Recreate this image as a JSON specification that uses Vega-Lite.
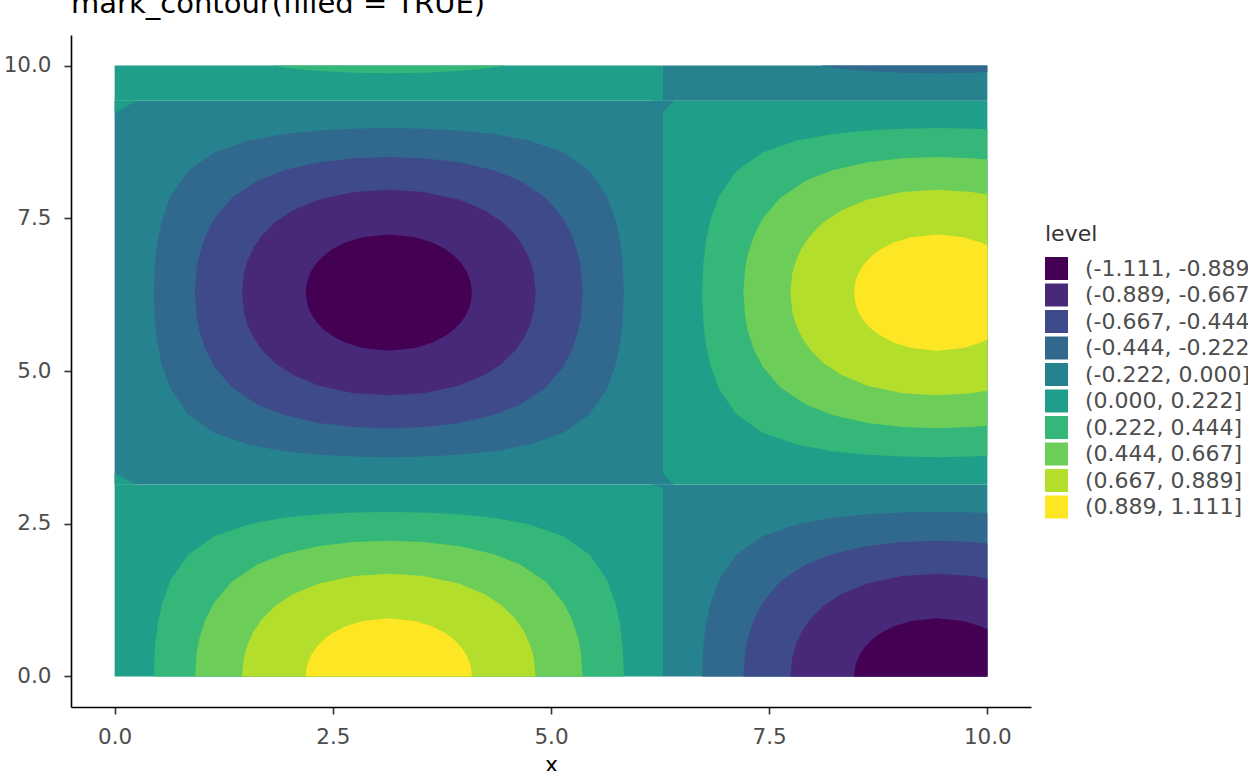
{
"$schema": "https://vega.github.io/schema/vega-lite/v6.json",
"autosize": {"type": "none"},
"padding": {"left": 71, "top": 35, "right": 217, "bottom": 64},
"width": 960,
"height": 672,
"title": {"text": "mark_contour(filled = TRUE)", "anchor": "start", "frame": "group", "fontSize": 29, "fontWeight": "normal", "color": "#000000", "baseline": "alphabetic", "offset": -7},
"datasets": {
"levels": [
{"lv":1,"level":"(-1.111, -0.889]"},{"lv":2,"level":"(-0.889, -0.667]"},{"lv":3,"level":"(-0.667, -0.444]"},{"lv":4,"level":"(-0.444, -0.222]"},{"lv":5,"level":"(-0.222, 0.000]"},{"lv":6,"level":"(0.000, 0.222]"},{"lv":7,"level":"(0.222, 0.444]"},{"lv":8,"level":"(0.444, 0.667]"},{"lv":9,"level":"(0.667, 0.889]"},{"lv":10,"level":"(0.889, 1.111]"}
],
"base": [
{"lv":6,"x":0,"x2":6.2832,"y":0,"y2":3.1416},
{"lv":5,"x":0,"x2":6.2832,"y":3.1416,"y2":9.4248},
{"lv":6,"x":0,"x2":6.2832,"y":9.4248,"y2":10},
{"lv":5,"x":6.2832,"x2":10,"y":0,"y2":3.1416},
{"lv":6,"x":6.2832,"x2":10,"y":3.1416,"y2":9.4248},
{"lv":5,"x":6.2832,"x2":10,"y":9.4248,"y2":10}
],
"fix": [
{"b":"A","lv":6,"x":0,"y":3.1416,"y2":3.328},{"b":"A","lv":6,"x":0.249,"y":3.1416,"y2":3.1416},
{"b":"B","lv":6,"x":0,"y":9.22,"y2":9.4248},{"b":"B","lv":6,"x":0.25,"y":9.4248,"y2":9.4248},
{"b":"C","lv":5,"x":6.155,"y":3.1416,"y2":3.1416},{"b":"C","lv":5,"x":6.2832,"y":3.083,"y2":3.1416},
{"b":"D","lv":5,"x":6.2832,"y":3.1416,"y2":3.328},{"b":"D","lv":5,"x":6.402,"y":3.1416,"y2":3.1416},
{"b":"E","lv":6,"x":6.155,"y":9.4248,"y2":9.4248},{"b":"E","lv":6,"x":6.2832,"y":9.4248,"y2":9.472},
{"b":"F","lv":5,"x":6.2832,"y":9.237,"y2":9.4248},{"b":"F","lv":5,"x":6.41,"y":9.4248,"y2":9.4248}
],
"t1": [
{"b":"LB","lv":7,"x":0.4482,"y":0,"y2":0},{"b":"LB","lv":7,"x":0.4616,"y":0,"y2":0.479},{"b":"LB","lv":7,"x":0.4916,"y":0,"y2":0.839},{"b":"LB","lv":7,"x":0.5416,"y":0,"y2":1.1807},{"b":"LB","lv":7,"x":0.6416,"y":0,"y2":1.5775},{"b":"LB","lv":7,"x":0.8416,"y":0,"y2":1.9912},{"b":"LB","lv":7,"x":1.1416,"y":0,"y2":2.2939},{"b":"LB","lv":7,"x":1.5416,"y":0,"y2":2.4923},{"b":"LB","lv":7,"x":1.9416,"y":0,"y2":2.5964},{"b":"LB","lv":7,"x":2.3416,"y":0,"y2":2.6542},{"b":"LB","lv":7,"x":2.7416,"y":0,"y2":2.6841},{"b":"LB","lv":7,"x":3.1416,"y":0,"y2":2.6934},{"b":"LB","lv":7,"x":3.5416,"y":0,"y2":2.6841},{"b":"LB","lv":7,"x":3.9416,"y":0,"y2":2.6542},{"b":"LB","lv":7,"x":4.3416,"y":0,"y2":2.5964},{"b":"LB","lv":7,"x":4.7416,"y":0,"y2":2.4923},{"b":"LB","lv":7,"x":5.1416,"y":0,"y2":2.2939},{"b":"LB","lv":7,"x":5.4416,"y":0,"y2":1.9912},{"b":"LB","lv":7,"x":5.6416,"y":0,"y2":1.5775},{"b":"LB","lv":7,"x":5.7416,"y":0,"y2":1.1807},{"b":"LB","lv":7,"x":5.7916,"y":0,"y2":0.839},{"b":"LB","lv":7,"x":5.8216,"y":0,"y2":0.479},{"b":"LB","lv":7,"x":5.835,"y":0,"y2":0},
{"b":"LM","lv":4,"x":0.4482,"y":6.2832,"y2":6.2832},{"b":"LM","lv":4,"x":0.4616,"y":5.8042,"y2":6.7622},{"b":"LM","lv":4,"x":0.4916,"y":5.4442,"y2":7.1222},{"b":"LM","lv":4,"x":0.5416,"y":5.1025,"y2":7.4639},{"b":"LM","lv":4,"x":0.6416,"y":4.7057,"y2":7.8607},{"b":"LM","lv":4,"x":0.8416,"y":4.292,"y2":8.2744},{"b":"LM","lv":4,"x":1.1416,"y":3.9893,"y2":8.5771},{"b":"LM","lv":4,"x":1.5416,"y":3.7909,"y2":8.7755},{"b":"LM","lv":4,"x":1.9416,"y":3.6868,"y2":8.8796},{"b":"LM","lv":4,"x":2.3416,"y":3.629,"y2":8.9374},{"b":"LM","lv":4,"x":2.7416,"y":3.5991,"y2":8.9673},{"b":"LM","lv":4,"x":3.1416,"y":3.5898,"y2":8.9766},{"b":"LM","lv":4,"x":3.5416,"y":3.5991,"y2":8.9673},{"b":"LM","lv":4,"x":3.9416,"y":3.629,"y2":8.9374},{"b":"LM","lv":4,"x":4.3416,"y":3.6868,"y2":8.8796},{"b":"LM","lv":4,"x":4.7416,"y":3.7909,"y2":8.7755},{"b":"LM","lv":4,"x":5.1416,"y":3.9893,"y2":8.5771},{"b":"LM","lv":4,"x":5.4416,"y":4.292,"y2":8.2744},{"b":"LM","lv":4,"x":5.6416,"y":4.7057,"y2":7.8607},{"b":"LM","lv":4,"x":5.7416,"y":5.1025,"y2":7.4639},{"b":"LM","lv":4,"x":5.7916,"y":5.4442,"y2":7.1222},{"b":"LM","lv":4,"x":5.8216,"y":5.8042,"y2":6.7622},{"b":"LM","lv":4,"x":5.835,"y":6.2832,"y2":6.2832},
{"b":"RM","lv":7,"x":6.7314,"y":6.2832,"y2":6.2832},{"b":"RM","lv":7,"x":6.7448,"y":5.8042,"y2":6.7622},{"b":"RM","lv":7,"x":6.7748,"y":5.4442,"y2":7.1222},{"b":"RM","lv":7,"x":6.8248,"y":5.1025,"y2":7.4639},{"b":"RM","lv":7,"x":6.9248,"y":4.7057,"y2":7.8607},{"b":"RM","lv":7,"x":7.1248,"y":4.292,"y2":8.2744},{"b":"RM","lv":7,"x":7.4248,"y":3.9893,"y2":8.5771},{"b":"RM","lv":7,"x":7.8248,"y":3.7909,"y2":8.7755},{"b":"RM","lv":7,"x":8.2248,"y":3.6868,"y2":8.8796},{"b":"RM","lv":7,"x":8.6248,"y":3.629,"y2":8.9374},{"b":"RM","lv":7,"x":9.0248,"y":3.5991,"y2":8.9673},{"b":"RM","lv":7,"x":9.4248,"y":3.5898,"y2":8.9766},{"b":"RM","lv":7,"x":9.8248,"y":3.5991,"y2":8.9673},{"b":"RM","lv":7,"x":10,"y":3.6093,"y2":8.9571},
{"b":"RB","lv":4,"x":6.7314,"y":0,"y2":0},{"b":"RB","lv":4,"x":6.7448,"y":0,"y2":0.479},{"b":"RB","lv":4,"x":6.7748,"y":0,"y2":0.839},{"b":"RB","lv":4,"x":6.8248,"y":0,"y2":1.1807},{"b":"RB","lv":4,"x":6.9248,"y":0,"y2":1.5775},{"b":"RB","lv":4,"x":7.1248,"y":0,"y2":1.9912},{"b":"RB","lv":4,"x":7.4248,"y":0,"y2":2.2939},{"b":"RB","lv":4,"x":7.8248,"y":0,"y2":2.4923},{"b":"RB","lv":4,"x":8.2248,"y":0,"y2":2.5964},{"b":"RB","lv":4,"x":8.6248,"y":0,"y2":2.6542},{"b":"RB","lv":4,"x":9.0248,"y":0,"y2":2.6841},{"b":"RB","lv":4,"x":9.4248,"y":0,"y2":2.6934},{"b":"RB","lv":4,"x":9.8248,"y":0,"y2":2.6841},{"b":"RB","lv":4,"x":10,"y":0,"y2":2.6739},
{"b":"LT","lv":7,"x":1.8003,"y":10,"y2":10},{"b":"LT","lv":7,"x":1.9416,"y":9.97,"y2":10},{"b":"LT","lv":7,"x":2.1416,"y":9.9368,"y2":10},{"b":"LT","lv":7,"x":2.3416,"y":9.9122,"y2":10},{"b":"LT","lv":7,"x":2.7416,"y":9.8823,"y2":10},{"b":"LT","lv":7,"x":3.1416,"y":9.873,"y2":10},{"b":"LT","lv":7,"x":3.5416,"y":9.8823,"y2":10},{"b":"LT","lv":7,"x":3.9416,"y":9.9122,"y2":10},{"b":"LT","lv":7,"x":4.1416,"y":9.9368,"y2":10},{"b":"LT","lv":7,"x":4.3416,"y":9.97,"y2":10},{"b":"LT","lv":7,"x":4.4829,"y":10,"y2":10},
{"b":"RT","lv":4,"x":8.0835,"y":10,"y2":10},{"b":"RT","lv":4,"x":8.2248,"y":9.97,"y2":10},{"b":"RT","lv":4,"x":8.4248,"y":9.9368,"y2":10},{"b":"RT","lv":4,"x":8.6248,"y":9.9122,"y2":10},{"b":"RT","lv":4,"x":9.0248,"y":9.8823,"y2":10},{"b":"RT","lv":4,"x":9.4248,"y":9.873,"y2":10},{"b":"RT","lv":4,"x":9.8248,"y":9.8823,"y2":10},{"b":"RT","lv":4,"x":10,"y":9.8925,"y2":10}
],
"t2": [
{"b":"LB","lv":8,"x":0.9211,"y":0,"y2":0},{"b":"LB","lv":8,"x":0.9416,"y":0,"y2":0.4027},{"b":"LB","lv":8,"x":0.9716,"y":0,"y2":0.6231},{"b":"LB","lv":8,"x":1.0416,"y":0,"y2":0.9326},{"b":"LB","lv":8,"x":1.1416,"y":0,"y2":1.2098},{"b":"LB","lv":8,"x":1.3416,"y":0,"y2":1.5484},{"b":"LB","lv":8,"x":1.6416,"y":0,"y2":1.836},{"b":"LB","lv":8,"x":1.9416,"y":0,"y2":2.0043},{"b":"LB","lv":8,"x":2.3416,"y":0,"y2":2.1345},{"b":"LB","lv":8,"x":2.7416,"y":0,"y2":2.2003},{"b":"LB","lv":8,"x":3.1416,"y":0,"y2":2.2205},{"b":"LB","lv":8,"x":3.5416,"y":0,"y2":2.2003},{"b":"LB","lv":8,"x":3.9416,"y":0,"y2":2.1345},{"b":"LB","lv":8,"x":4.3416,"y":0,"y2":2.0043},{"b":"LB","lv":8,"x":4.6416,"y":0,"y2":1.836},{"b":"LB","lv":8,"x":4.9416,"y":0,"y2":1.5484},{"b":"LB","lv":8,"x":5.1416,"y":0,"y2":1.2098},{"b":"LB","lv":8,"x":5.2416,"y":0,"y2":0.9326},{"b":"LB","lv":8,"x":5.3116,"y":0,"y2":0.6231},{"b":"LB","lv":8,"x":5.3416,"y":0,"y2":0.4027},{"b":"LB","lv":8,"x":5.3621,"y":0,"y2":0},
{"b":"LM","lv":3,"x":0.9211,"y":6.2832,"y2":6.2832},{"b":"LM","lv":3,"x":0.9416,"y":5.8805,"y2":6.6859},{"b":"LM","lv":3,"x":0.9716,"y":5.6601,"y2":6.9063},{"b":"LM","lv":3,"x":1.0416,"y":5.3506,"y2":7.2158},{"b":"LM","lv":3,"x":1.1416,"y":5.0734,"y2":7.493},{"b":"LM","lv":3,"x":1.3416,"y":4.7348,"y2":7.8316},{"b":"LM","lv":3,"x":1.6416,"y":4.4472,"y2":8.1192},{"b":"LM","lv":3,"x":1.9416,"y":4.2789,"y2":8.2875},{"b":"LM","lv":3,"x":2.3416,"y":4.1487,"y2":8.4177},{"b":"LM","lv":3,"x":2.7416,"y":4.0829,"y2":8.4835},{"b":"LM","lv":3,"x":3.1416,"y":4.0627,"y2":8.5037},{"b":"LM","lv":3,"x":3.5416,"y":4.0829,"y2":8.4835},{"b":"LM","lv":3,"x":3.9416,"y":4.1487,"y2":8.4177},{"b":"LM","lv":3,"x":4.3416,"y":4.2789,"y2":8.2875},{"b":"LM","lv":3,"x":4.6416,"y":4.4472,"y2":8.1192},{"b":"LM","lv":3,"x":4.9416,"y":4.7348,"y2":7.8316},{"b":"LM","lv":3,"x":5.1416,"y":5.0734,"y2":7.493},{"b":"LM","lv":3,"x":5.2416,"y":5.3506,"y2":7.2158},{"b":"LM","lv":3,"x":5.3116,"y":5.6601,"y2":6.9063},{"b":"LM","lv":3,"x":5.3416,"y":5.8805,"y2":6.6859},{"b":"LM","lv":3,"x":5.3621,"y":6.2832,"y2":6.2832},
{"b":"RM","lv":8,"x":7.2043,"y":6.2832,"y2":6.2832},{"b":"RM","lv":8,"x":7.2248,"y":5.8805,"y2":6.6859},{"b":"RM","lv":8,"x":7.2548,"y":5.6601,"y2":6.9063},{"b":"RM","lv":8,"x":7.3248,"y":5.3506,"y2":7.2158},{"b":"RM","lv":8,"x":7.4248,"y":5.0734,"y2":7.493},{"b":"RM","lv":8,"x":7.6248,"y":4.7348,"y2":7.8316},{"b":"RM","lv":8,"x":7.9248,"y":4.4472,"y2":8.1192},{"b":"RM","lv":8,"x":8.2248,"y":4.2789,"y2":8.2875},{"b":"RM","lv":8,"x":8.6248,"y":4.1487,"y2":8.4177},{"b":"RM","lv":8,"x":9.0248,"y":4.0829,"y2":8.4835},{"b":"RM","lv":8,"x":9.4248,"y":4.0627,"y2":8.5037},{"b":"RM","lv":8,"x":9.8248,"y":4.0829,"y2":8.4835},{"b":"RM","lv":8,"x":10,"y":4.1054,"y2":8.461},
{"b":"RB","lv":3,"x":7.2043,"y":0,"y2":0},{"b":"RB","lv":3,"x":7.2248,"y":0,"y2":0.4027},{"b":"RB","lv":3,"x":7.2548,"y":0,"y2":0.6231},{"b":"RB","lv":3,"x":7.3248,"y":0,"y2":0.9326},{"b":"RB","lv":3,"x":7.4248,"y":0,"y2":1.2098},{"b":"RB","lv":3,"x":7.6248,"y":0,"y2":1.5484},{"b":"RB","lv":3,"x":7.9248,"y":0,"y2":1.836},{"b":"RB","lv":3,"x":8.2248,"y":0,"y2":2.0043},{"b":"RB","lv":3,"x":8.6248,"y":0,"y2":2.1345},{"b":"RB","lv":3,"x":9.0248,"y":0,"y2":2.2003},{"b":"RB","lv":3,"x":9.4248,"y":0,"y2":2.2205},{"b":"RB","lv":3,"x":9.8248,"y":0,"y2":2.2003},{"b":"RB","lv":3,"x":10,"y":0,"y2":2.1778}
],
"t3": [
{"b":"LB","lv":9,"x":1.4595,"y":0,"y2":0},{"b":"LB","lv":9,"x":1.4816,"y":0,"y2":0.3129},{"b":"LB","lv":9,"x":1.5216,"y":0,"y2":0.5161},{"b":"LB","lv":9,"x":1.5916,"y":0,"y2":0.7354},{"b":"LB","lv":9,"x":1.6916,"y":0,"y2":0.9437},{"b":"LB","lv":9,"x":1.8416,"y":0,"y2":1.1564},{"b":"LB","lv":9,"x":2.0416,"y":0,"y2":1.3459},{"b":"LB","lv":9,"x":2.3416,"y":0,"y2":1.523},{"b":"LB","lv":9,"x":2.7416,"y":0,"y2":1.6454},{"b":"LB","lv":9,"x":3.1416,"y":0,"y2":1.6821},{"b":"LB","lv":9,"x":3.5416,"y":0,"y2":1.6454},{"b":"LB","lv":9,"x":3.9416,"y":0,"y2":1.523},{"b":"LB","lv":9,"x":4.2416,"y":0,"y2":1.3459},{"b":"LB","lv":9,"x":4.4416,"y":0,"y2":1.1564},{"b":"LB","lv":9,"x":4.5916,"y":0,"y2":0.9437},{"b":"LB","lv":9,"x":4.6916,"y":0,"y2":0.7354},{"b":"LB","lv":9,"x":4.7616,"y":0,"y2":0.5161},{"b":"LB","lv":9,"x":4.8016,"y":0,"y2":0.3129},{"b":"LB","lv":9,"x":4.8237,"y":0,"y2":0},
{"b":"LM","lv":2,"x":1.4595,"y":6.2832,"y2":6.2832},{"b":"LM","lv":2,"x":1.4816,"y":5.9703,"y2":6.5961},{"b":"LM","lv":2,"x":1.5216,"y":5.7671,"y2":6.7993},{"b":"LM","lv":2,"x":1.5916,"y":5.5478,"y2":7.0186},{"b":"LM","lv":2,"x":1.6916,"y":5.3395,"y2":7.2269},{"b":"LM","lv":2,"x":1.8416,"y":5.1268,"y2":7.4396},{"b":"LM","lv":2,"x":2.0416,"y":4.9373,"y2":7.6291},{"b":"LM","lv":2,"x":2.3416,"y":4.7602,"y2":7.8062},{"b":"LM","lv":2,"x":2.7416,"y":4.6378,"y2":7.9286},{"b":"LM","lv":2,"x":3.1416,"y":4.6011,"y2":7.9653},{"b":"LM","lv":2,"x":3.5416,"y":4.6378,"y2":7.9286},{"b":"LM","lv":2,"x":3.9416,"y":4.7602,"y2":7.8062},{"b":"LM","lv":2,"x":4.2416,"y":4.9373,"y2":7.6291},{"b":"LM","lv":2,"x":4.4416,"y":5.1268,"y2":7.4396},{"b":"LM","lv":2,"x":4.5916,"y":5.3395,"y2":7.2269},{"b":"LM","lv":2,"x":4.6916,"y":5.5478,"y2":7.0186},{"b":"LM","lv":2,"x":4.7616,"y":5.7671,"y2":6.7993},{"b":"LM","lv":2,"x":4.8016,"y":5.9703,"y2":6.5961},{"b":"LM","lv":2,"x":4.8237,"y":6.2832,"y2":6.2832},
{"b":"RM","lv":9,"x":7.7427,"y":6.2832,"y2":6.2832},{"b":"RM","lv":9,"x":7.7648,"y":5.9703,"y2":6.5961},{"b":"RM","lv":9,"x":7.8048,"y":5.7671,"y2":6.7993},{"b":"RM","lv":9,"x":7.8748,"y":5.5478,"y2":7.0186},{"b":"RM","lv":9,"x":7.9748,"y":5.3395,"y2":7.2269},{"b":"RM","lv":9,"x":8.1248,"y":5.1268,"y2":7.4396},{"b":"RM","lv":9,"x":8.3248,"y":4.9373,"y2":7.6291},{"b":"RM","lv":9,"x":8.6248,"y":4.7602,"y2":7.8062},{"b":"RM","lv":9,"x":9.0248,"y":4.6378,"y2":7.9286},{"b":"RM","lv":9,"x":9.4248,"y":4.6011,"y2":7.9653},{"b":"RM","lv":9,"x":9.8248,"y":4.6378,"y2":7.9286},{"b":"RM","lv":9,"x":10,"y":4.6791,"y2":7.8873},
{"b":"RB","lv":2,"x":7.7427,"y":0,"y2":0},{"b":"RB","lv":2,"x":7.7648,"y":0,"y2":0.3129},{"b":"RB","lv":2,"x":7.8048,"y":0,"y2":0.5161},{"b":"RB","lv":2,"x":7.8748,"y":0,"y2":0.7354},{"b":"RB","lv":2,"x":7.9748,"y":0,"y2":0.9437},{"b":"RB","lv":2,"x":8.1248,"y":0,"y2":1.1564},{"b":"RB","lv":2,"x":8.3248,"y":0,"y2":1.3459},{"b":"RB","lv":2,"x":8.6248,"y":0,"y2":1.523},{"b":"RB","lv":2,"x":9.0248,"y":0,"y2":1.6454},{"b":"RB","lv":2,"x":9.4248,"y":0,"y2":1.6821},{"b":"RB","lv":2,"x":9.8248,"y":0,"y2":1.6454},{"b":"RB","lv":2,"x":10,"y":0,"y2":1.6041}
],
"t4": [
{"b":"LB","lv":10,"x":2.1898,"y":0,"y2":0},{"b":"LB","lv":10,"x":2.2016,"y":0,"y2":0.155},{"b":"LB","lv":10,"x":2.2216,"y":0,"y2":0.253},{"b":"LB","lv":10,"x":2.2616,"y":0,"y2":0.3749},{"b":"LB","lv":10,"x":2.3116,"y":0,"y2":0.48},{"b":"LB","lv":10,"x":2.3916,"y":0,"y2":0.6004},{"b":"LB","lv":10,"x":2.4916,"y":0,"y2":0.708},{"b":"LB","lv":10,"x":2.6416,"y":0,"y2":0.8185},{"b":"LB","lv":10,"x":2.8416,"y":0,"y2":0.9067},{"b":"LB","lv":10,"x":3.1416,"y":0,"y2":0.9518},{"b":"LB","lv":10,"x":3.4416,"y":0,"y2":0.9067},{"b":"LB","lv":10,"x":3.6416,"y":0,"y2":0.8185},{"b":"LB","lv":10,"x":3.7916,"y":0,"y2":0.708},{"b":"LB","lv":10,"x":3.8916,"y":0,"y2":0.6004},{"b":"LB","lv":10,"x":3.9716,"y":0,"y2":0.48},{"b":"LB","lv":10,"x":4.0216,"y":0,"y2":0.3749},{"b":"LB","lv":10,"x":4.0616,"y":0,"y2":0.253},{"b":"LB","lv":10,"x":4.0816,"y":0,"y2":0.155},{"b":"LB","lv":10,"x":4.0934,"y":0,"y2":0},
{"b":"LM","lv":1,"x":2.1898,"y":6.2832,"y2":6.2832},{"b":"LM","lv":1,"x":2.2016,"y":6.1282,"y2":6.4382},{"b":"LM","lv":1,"x":2.2216,"y":6.0302,"y2":6.5362},{"b":"LM","lv":1,"x":2.2616,"y":5.9083,"y2":6.6581},{"b":"LM","lv":1,"x":2.3116,"y":5.8032,"y2":6.7632},{"b":"LM","lv":1,"x":2.3916,"y":5.6828,"y2":6.8836},{"b":"LM","lv":1,"x":2.4916,"y":5.5752,"y2":6.9912},{"b":"LM","lv":1,"x":2.6416,"y":5.4647,"y2":7.1017},{"b":"LM","lv":1,"x":2.8416,"y":5.3765,"y2":7.1899},{"b":"LM","lv":1,"x":3.1416,"y":5.3314,"y2":7.235},{"b":"LM","lv":1,"x":3.4416,"y":5.3765,"y2":7.1899},{"b":"LM","lv":1,"x":3.6416,"y":5.4647,"y2":7.1017},{"b":"LM","lv":1,"x":3.7916,"y":5.5752,"y2":6.9912},{"b":"LM","lv":1,"x":3.8916,"y":5.6828,"y2":6.8836},{"b":"LM","lv":1,"x":3.9716,"y":5.8032,"y2":6.7632},{"b":"LM","lv":1,"x":4.0216,"y":5.9083,"y2":6.6581},{"b":"LM","lv":1,"x":4.0616,"y":6.0302,"y2":6.5362},{"b":"LM","lv":1,"x":4.0816,"y":6.1282,"y2":6.4382},{"b":"LM","lv":1,"x":4.0934,"y":6.2832,"y2":6.2832},
{"b":"RM","lv":10,"x":8.473,"y":6.2832,"y2":6.2832},{"b":"RM","lv":10,"x":8.4848,"y":6.1282,"y2":6.4382},{"b":"RM","lv":10,"x":8.5048,"y":6.0302,"y2":6.5362},{"b":"RM","lv":10,"x":8.5448,"y":5.9083,"y2":6.6581},{"b":"RM","lv":10,"x":8.5948,"y":5.8032,"y2":6.7632},{"b":"RM","lv":10,"x":8.6748,"y":5.6828,"y2":6.8836},{"b":"RM","lv":10,"x":8.7748,"y":5.5752,"y2":6.9912},{"b":"RM","lv":10,"x":8.9248,"y":5.4647,"y2":7.1017},{"b":"RM","lv":10,"x":9.1248,"y":5.3765,"y2":7.1899},{"b":"RM","lv":10,"x":9.4248,"y":5.3314,"y2":7.235},{"b":"RM","lv":10,"x":9.7248,"y":5.3765,"y2":7.1899},{"b":"RM","lv":10,"x":9.9248,"y":5.4647,"y2":7.1017},{"b":"RM","lv":10,"x":10,"y":5.5141,"y2":7.0523},
{"b":"RB","lv":1,"x":8.473,"y":0,"y2":0},{"b":"RB","lv":1,"x":8.4848,"y":0,"y2":0.155},{"b":"RB","lv":1,"x":8.5048,"y":0,"y2":0.253},{"b":"RB","lv":1,"x":8.5448,"y":0,"y2":0.3749},{"b":"RB","lv":1,"x":8.5948,"y":0,"y2":0.48},{"b":"RB","lv":1,"x":8.6748,"y":0,"y2":0.6004},{"b":"RB","lv":1,"x":8.7748,"y":0,"y2":0.708},{"b":"RB","lv":1,"x":8.9248,"y":0,"y2":0.8185},{"b":"RB","lv":1,"x":9.1248,"y":0,"y2":0.9067},{"b":"RB","lv":1,"x":9.4248,"y":0,"y2":0.9518},{"b":"RB","lv":1,"x":9.7248,"y":0,"y2":0.9067},{"b":"RB","lv":1,"x":9.9248,"y":0,"y2":0.8185},{"b":"RB","lv":1,"x":10,"y":0,"y2":0.7691}
]
},
"encoding": {
"x": {"field": "x", "type": "quantitative", "scale": {"domain": [-0.5, 10.5], "nice": false, "zero": false},
 "axis": {"values": [0, 2.5, 5, 7.5, 10], "format": ".1f", "title": "x", "labelPadding": 12, "titleY": 64, "titleBaseline": "alphabetic"}},
"y": {"field": "y", "type": "quantitative", "stack": null, "scale": {"domain": [-0.5, 10.5], "nice": false, "zero": false},
 "axis": {"values": [0, 2.5, 5, 7.5, 10], "format": ".1f", "title": null, "labelPadding": 13}},
"y2": {"field": "y2"},
"color": {"field": "level", "type": "nominal",
 "scale": {"domain": ["(-1.111, -0.889]","(-0.889, -0.667]","(-0.667, -0.444]","(-0.444, -0.222]","(-0.222, 0.000]","(0.000, 0.222]","(0.222, 0.444]","(0.444, 0.667]","(0.667, 0.889]","(0.889, 1.111]"],
  "range": ["#440154","#482878","#3E4A89","#31688E","#26828E","#1F9E89","#35B779","#6DCD59","#B4DE2C","#FDE725"]},
 "legend": {"orient": "none", "legendX": 974, "legendY": 189, "title": "level", "titleFontSize": 22, "titleFontWeight": "normal", "titleColor": "#333333", "titlePadding": 11, "labelFontSize": 22, "labelColor": "#4D4D4D", "labelOffset": 17, "labelLimit": 500, "symbolType": "square", "symbolSize": 529, "symbolStrokeWidth": 0, "symbolOpacity": 1, "rowPadding": 3.5}}
},
"layer": [
{"data": {"name": "base"}, "transform": [{"lookup": "lv", "from": {"data": {"name": "levels"}, "key": "lv", "fields": ["level"]}}],
 "mark": {"type": "rect"}, "encoding": {"x2": {"field": "x2"}}},
{"data": {"name": "fix"}, "transform": [{"lookup": "lv", "from": {"data": {"name": "levels"}, "key": "lv", "fields": ["level"]}}],
 "mark": {"type": "area", "orient": "vertical", "opacity": 1}, "encoding": {"detail": {"field": "b"}}},
{"data": {"name": "t1"}, "transform": [{"lookup": "lv", "from": {"data": {"name": "levels"}, "key": "lv", "fields": ["level"]}}],
 "mark": {"type": "area", "orient": "vertical", "opacity": 1}, "encoding": {"detail": {"field": "b"}}},
{"data": {"name": "t2"}, "transform": [{"lookup": "lv", "from": {"data": {"name": "levels"}, "key": "lv", "fields": ["level"]}}],
 "mark": {"type": "area", "orient": "vertical", "opacity": 1}, "encoding": {"detail": {"field": "b"}}},
{"data": {"name": "t3"}, "transform": [{"lookup": "lv", "from": {"data": {"name": "levels"}, "key": "lv", "fields": ["level"]}}],
 "mark": {"type": "area", "orient": "vertical", "opacity": 1}, "encoding": {"detail": {"field": "b"}}},
{"data": {"name": "t4"}, "transform": [{"lookup": "lv", "from": {"data": {"name": "levels"}, "key": "lv", "fields": ["level"]}}],
 "mark": {"type": "area", "orient": "vertical", "opacity": 1}, "encoding": {"detail": {"field": "b"}}}
],
"config": {
"font": "DejaVu Sans",
"view": {"stroke": null},
"axis": {"grid": false, "domainColor": "#000000", "domainWidth": 1.6, "tickColor": "#333333", "tickWidth": 1.6, "tickSize": 7, "labelFontSize": 21.5, "labelColor": "#4D4D4D", "titleFontSize": 22, "titleFontWeight": "normal", "titleColor": "#000000"}
}
}
